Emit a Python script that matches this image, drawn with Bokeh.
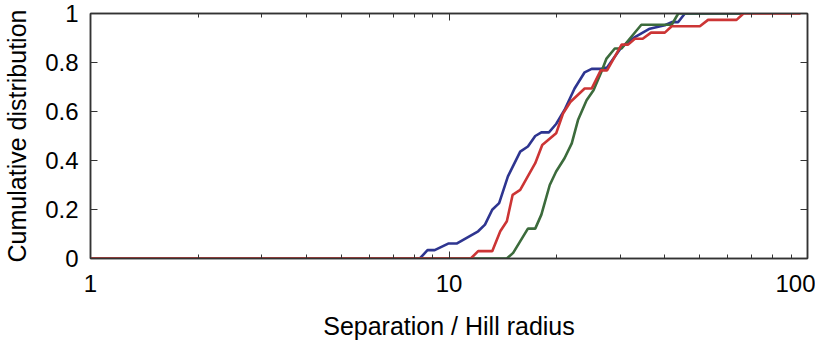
from bokeh.plotting import figure
from bokeh.models import Range1d, LinearAxis, LogAxis, FixedTicker, LogTicker
from bokeh.embed import file_html
from bokeh.resources import INLINE

# ---- data ----
blue_x = [1, 8.29, 8.71, 9.12, 9.95, 10.5, 12.06, 12.6, 13.2, 13.8, 14.6, 15.8, 16.6, 17.4,
          18.1, 19.0, 19.9, 21.0, 22.4, 23.9, 25.0, 26.6, 27.6, 30.3, 33.0, 36.3, 40.0,
          41.8, 43.6, 45.5, 65.5]
blue_y = [0, 0, 0.034, 0.034, 0.061, 0.061, 0.111, 0.138, 0.199, 0.226, 0.335, 0.436, 0.457,
          0.50, 0.515, 0.515, 0.549, 0.606, 0.694, 0.76, 0.774, 0.774, 0.780, 0.863, 0.904,
          0.938, 0.952, 0.965, 0.965, 1.0, 1.0]

red_x = [1, 11.5, 12.06, 13.2, 13.9, 14.5, 15.05, 15.8, 17.4, 18.2, 19.9, 20.8, 21.8, 23.9,
         25.0, 26.5, 27.6, 30.3, 31.6, 33.0, 34.7, 36.6, 40.0, 41.8, 50.1, 52.8, 63.4, 66.3, 95.6]
red_y = [0, 0, 0.03, 0.03, 0.111, 0.152, 0.26, 0.28, 0.389, 0.463, 0.511, 0.592, 0.639, 0.694,
         0.694, 0.768, 0.768, 0.873, 0.873, 0.897, 0.897, 0.922, 0.922, 0.948, 0.948, 0.974,
         0.974, 1.0, 1.0]

green_x = [1, 14.5, 15.1, 16.6, 17.4, 18.1, 19.1, 19.9, 21.0, 22.0, 22.9, 24.2, 25.3, 26.6,
           27.5, 29.0, 30.3, 34.4, 41.8, 43.6, 65.5]
green_y = [0, 0, 0.023, 0.122, 0.122, 0.179, 0.30, 0.355, 0.409, 0.47, 0.565, 0.646, 0.687,
           0.761, 0.816, 0.857, 0.857, 0.954, 0.954, 1.0, 1.0]

x_ticks = [1, 10, 100]
x_tick_labels = ["1", "10", "100"]
y_ticks = [0, 0.2, 0.4, 0.6, 0.8, 1.0]
y_tick_labels = ["0", "0.2", "0.4", "0.6", "0.8", "1"]

x_title = "Separation / Hill radius"
y_title = "Cumulative distribution"

FONT = "Liberation Sans"
FRAME = "#333333"

p = figure(x_axis_type="log", output_backend="svg", toolbar_location=None,
           frame_width=717, frame_height=245,
           x_range=Range1d(1, 100), y_range=Range1d(0, 1),
           min_border_left=80, min_border_top=13, min_border_right=8, min_border_bottom=76)

p.grid.visible = False
p.background_fill_color = "white"
p.border_fill_color = "white"
p.outline_line_color = FRAME
p.outline_line_width = 1.5

p.line(blue_x, blue_y, line_color="#2e3590", line_width=2.6)
p.line(green_x, green_y, line_color="#3c6b3c", line_width=2.6)
p.line(red_x, red_y, line_color="#cc3535", line_width=2.6)

def style(ax, labels=True):
    ax.axis_line_color = FRAME
    ax.axis_line_width = 1.5
    ax.major_tick_line_color = FRAME
    ax.minor_tick_line_color = FRAME
    ax.major_tick_in = 7
    ax.major_tick_out = 0
    ax.minor_tick_in = 4
    ax.minor_tick_out = 0
    ax.major_label_text_font = FONT
    ax.major_label_text_font_size = "24px" if labels else "1px"
    ax.major_label_text_color = "black"
    if not labels:
        ax.major_label_text_alpha = 0
    ax.axis_label_text_font = FONT
    ax.axis_label_text_font_size = "25px"
    ax.axis_label_text_font_style = "normal"
    ax.axis_label_text_color = "black"

xa = p.xaxis[0]
xa.ticker = LogTicker(desired_num_ticks=3, num_minor_ticks=10)
xa.major_label_overrides = dict(zip(x_ticks, x_tick_labels))
xa.axis_label = x_title
style(xa)
xa.major_label_standoff = 16
xa.axis_label_standoff = 17

ya = p.yaxis[0]
ya.ticker = FixedTicker(ticks=y_ticks)
ya.major_label_overrides = dict(zip(y_ticks, y_tick_labels))
ya.axis_label = y_title
style(ya)
ya.minor_tick_in = 0
ya.major_label_standoff = 12
ya.axis_label_standoff = 11

top = LogAxis(ticker=LogTicker(desired_num_ticks=3, num_minor_ticks=10))
style(top, labels=False)
top.major_label_standoff = 0
p.add_layout(top, "above")

right = LinearAxis(ticker=FixedTicker(ticks=y_ticks))
style(right, labels=False)
right.minor_tick_in = 0
right.major_label_standoff = 0
p.add_layout(right, "right")

open("out.html", "w").write(file_html(p, INLINE))
